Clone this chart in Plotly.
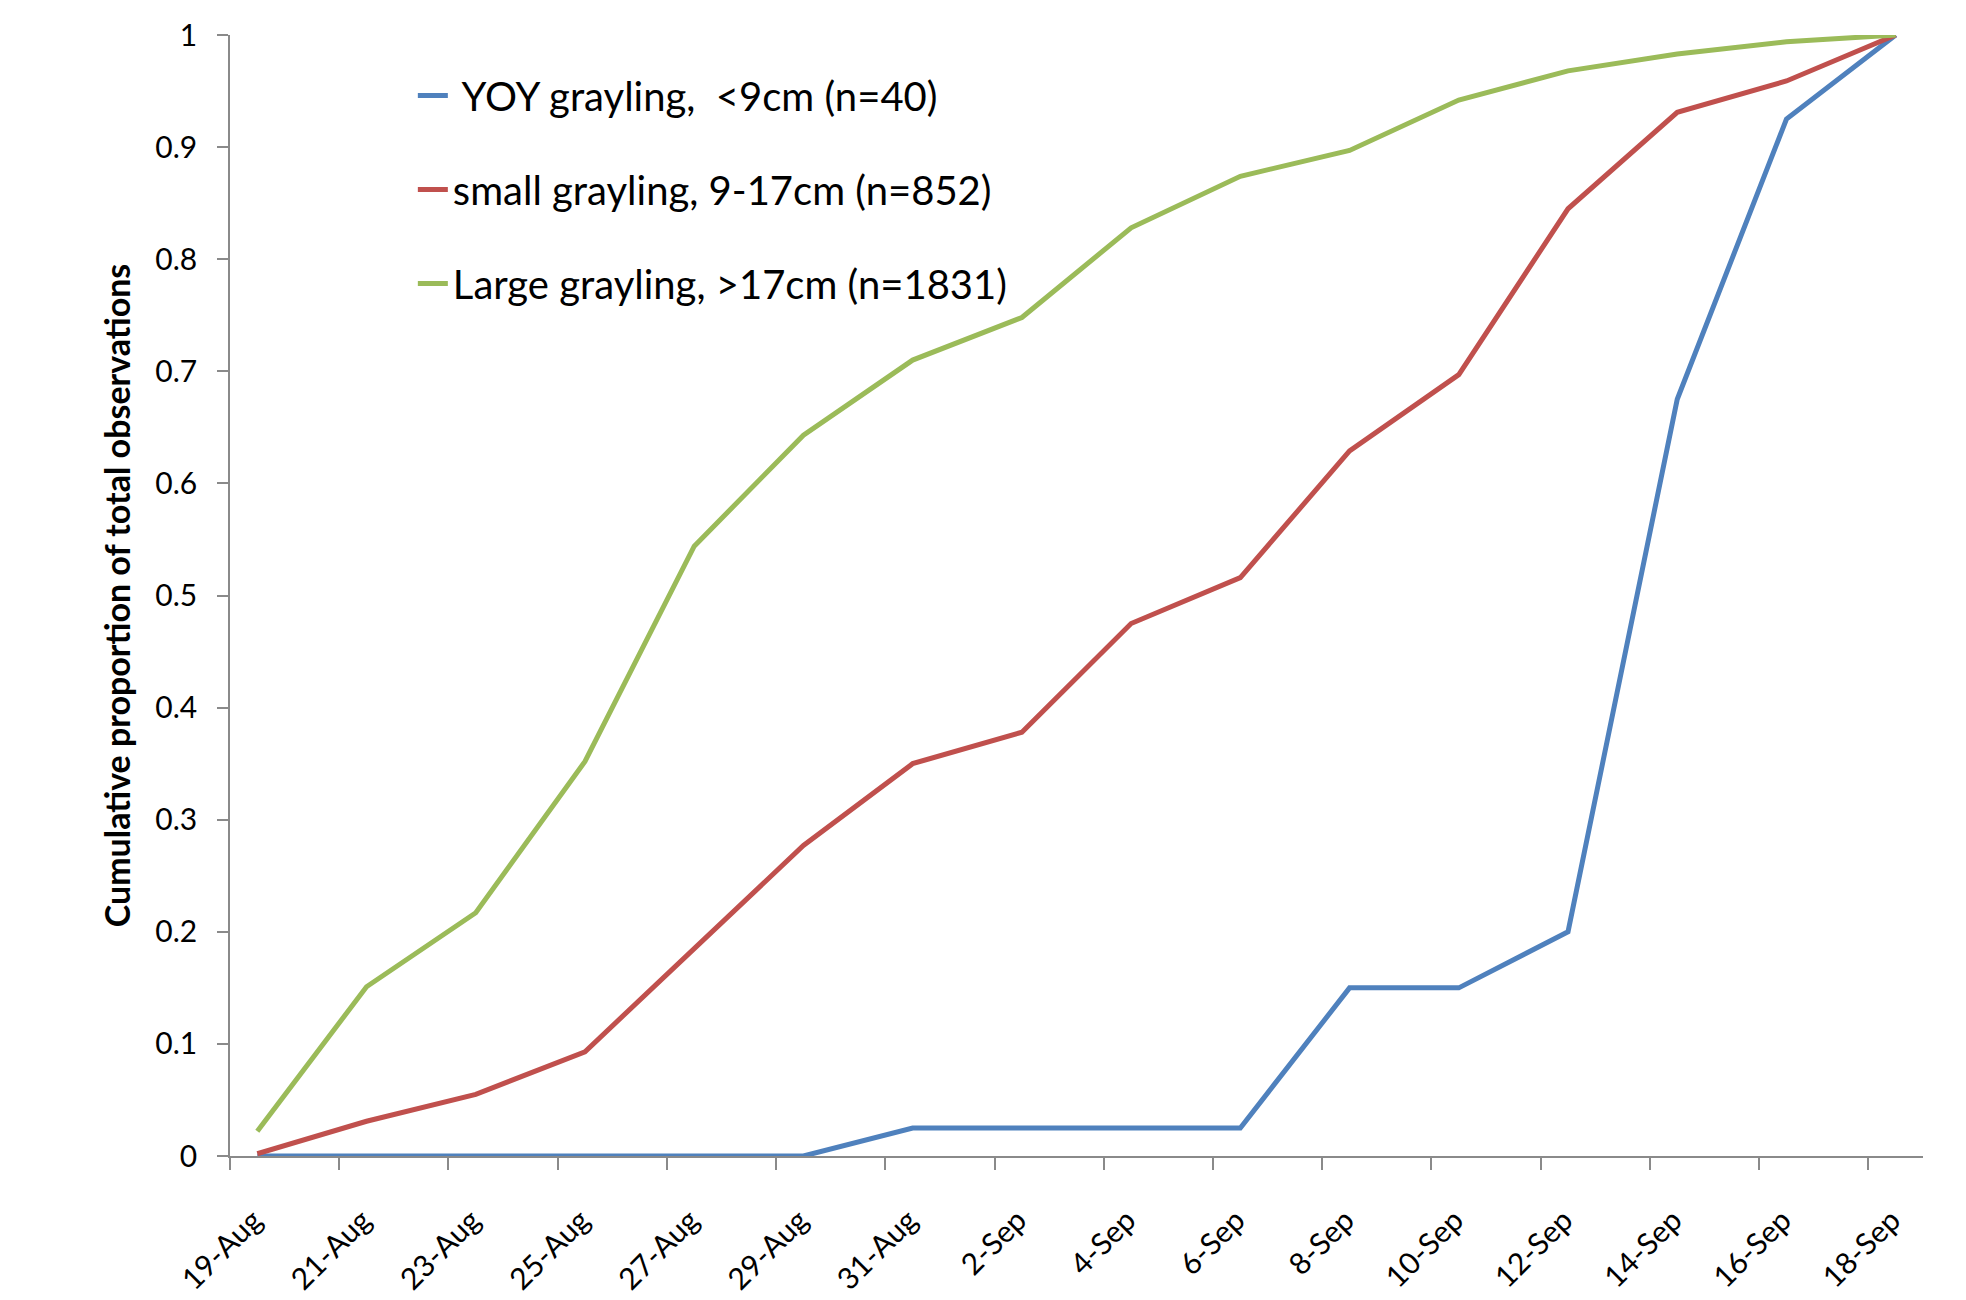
import plotly.graph_objects as go

# ---- data ----
date_labels = ["19-Aug", "21-Aug", "23-Aug", "25-Aug", "27-Aug", "29-Aug", "31-Aug", "2-Sep",
               "4-Sep", "6-Sep", "8-Sep", "10-Sep", "12-Sep", "14-Sep", "16-Sep", "18-Sep"]
day_offset = [0, 2, 4, 6, 8, 10, 12, 14, 16, 18, 20, 22, 24, 26, 28, 30]  # days since 19-Aug

yoy = [0, 0, 0, 0, 0, 0, 0.025, 0.025, 0.025, 0.025, 0.15, 0.15, 0.2, 0.675, 0.925, 1.0]
small = [0.002, 0.031, 0.055, 0.093, 0.185, 0.277, 0.350, 0.378, 0.475, 0.516, 0.629, 0.697,
         0.845, 0.931, 0.959, 1.0]
large = [0.022, 0.151, 0.217, 0.352, 0.544, 0.643, 0.710, 0.748, 0.828, 0.874, 0.897, 0.942,
         0.968, 0.983, 0.994, 1.0]

series_names = [" YOY grayling,  <9cm (n=40)", "small grayling, 9-17cm (n=852)",
                "Large grayling, >17cm (n=1831)"]
series_colors = ["#4F81BD", "#C0504D", "#9BBB59"]
y_ticks = [0, 0.1, 0.2, 0.3, 0.4, 0.5, 0.6, 0.7, 0.8, 0.9, 1]
y_ticktext = ["0", "0.1", "0.2", "0.3", "0.4", "0.5", "0.6", "0.7", "0.8", "0.9", "1"]

FONT = "Lato"
AXIS_COLOR = "#8a8a8a"

fig = go.Figure()
for i, (vals, name, col) in enumerate(zip([yoy, small, large], series_names, series_colors)):
    fig.add_trace(go.Scatter(
        x=day_offset, y=vals, mode="lines", name=name,
        line=dict(color=col, width=5),
        cliponaxis=False, legendgroup=f"g{i}",
    ))

boundaries = [d - 0.5 for d in day_offset]

fig.update_layout(
    width=1966, height=1300,
    margin=dict(l=222, r=51, t=27, b=152),
    paper_bgcolor="white", plot_bgcolor="white",
    font=dict(family=FONT, color="#000000"),
    showlegend=True,
    legend=dict(
        x=0.108, y=0.975, xanchor="left", yanchor="top",
        font=dict(family=FONT, size=40, color="#000000"),
        bgcolor="rgba(0,0,0,0)", borderwidth=0,
        tracegroupgap=39,
    ),
    xaxis=dict(
        range=[-0.5, 30.5], automargin=False,
        tickmode="array", tickvals=day_offset, ticktext=date_labels,
        tickangle=-45, ticks="", showgrid=False, zeroline=False,
        showline=True, linecolor=AXIS_COLOR, linewidth=1.5,
        tickfont=dict(family=FONT, size=30, color="#000000"),
        ticklabelstandoff=33, ticklabelshift=-4,
        layer="below traces",
        minor=dict(tickmode="array", tickvals=boundaries, ticks="outside", ticklen=12,
                   tickwidth=1.5, tickcolor=AXIS_COLOR, showgrid=False),
    ),
    yaxis=dict(
        range=[0, 1], automargin=False,
        tickmode="array", tickvals=y_ticks, ticktext=y_ticktext,
        ticks="outside", ticklen=11, tickwidth=1.5, tickcolor=AXIS_COLOR,
        showgrid=False, zeroline=False,
        showline=True, linecolor=AXIS_COLOR, linewidth=1.5,
        tickfont=dict(family=FONT, size=30, color="#000000"),
        ticklabelstandoff=14,
        layer="below traces",
        title=dict(text="<b>Cumulative proportion of total observations</b>",
                   font=dict(family=FONT, size=34, color="#000000"), standoff=14),
    ),
)

fig.write_html("out.html")
